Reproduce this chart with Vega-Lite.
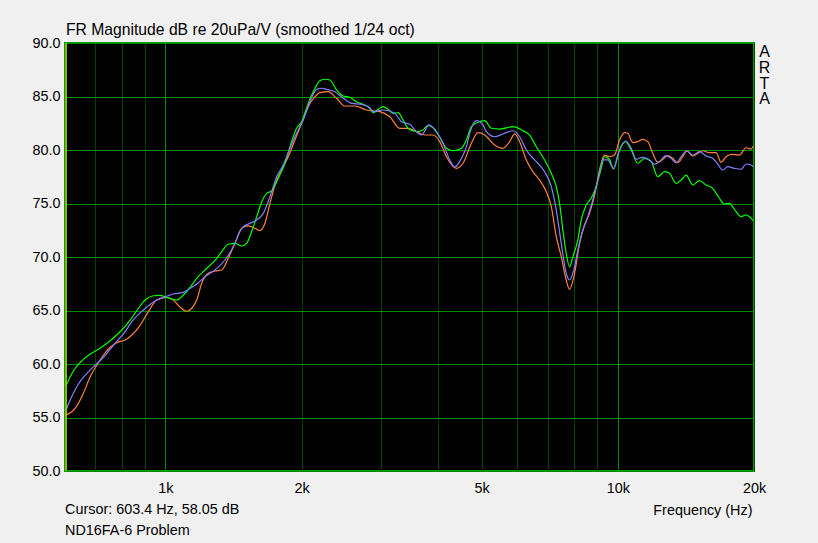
{
  "$schema": "https://vega.github.io/schema/vega-lite/v6.json",
  "width": 689,
  "height": 428,
  "autosize": {"type": "none"},
  "padding": {"left": 65, "top": 43, "right": 64, "bottom": 72},
  "background": "#f0f0f0",
  "config": {
    "view": {"fill": "#000000", "stroke": "#00a000", "strokeWidth": 2},
    "font": "Liberation Sans"
  },
  "title": {
    "text": "FR Magnitude dB re 20uPa/V (smoothed 1/24 oct)",
    "anchor": "start",
    "frame": "group",
    "fontSize": 15.7,
    "fontWeight": "normal",
    "font": "Liberation Sans",
    "color": "#000000",
    "baseline": "alphabetic",
    "offset": 7,
    "dx": 1,
    "dy": 23
  },
  "data": {
    "values": [
      {"s": "orange", "f": 600, "db": 55.21}, {"s": "orange", "f": 621, "db": 55.54}, {"s": "orange", "f": 637, "db": 56.07}, {"s": "orange", "f": 659, "db": 57.26}, {"s": "orange", "f": 682, "db": 58.81}, {"s": "orange", "f": 706, "db": 59.91}, {"s": "orange", "f": 730, "db": 60.84}, {"s": "orange", "f": 755, "db": 61.56}, {"s": "orange", "f": 781, "db": 61.99}, {"s": "orange", "f": 815, "db": 62.24}, {"s": "orange", "f": 843, "db": 62.71}, {"s": "orange", "f": 880, "db": 63.64}, {"s": "orange", "f": 917, "db": 64.89}, {"s": "orange", "f": 957, "db": 65.98}, {"s": "orange", "f": 1007, "db": 66.23}, {"s": "orange", "f": 1041, "db": 65.98}, {"s": "orange", "f": 1078, "db": 65.30}, {"s": "orange", "f": 1115, "db": 64.93}, {"s": "orange", "f": 1144, "db": 65.21}, {"s": "orange", "f": 1173, "db": 65.98}, {"s": "orange", "f": 1203, "db": 67.54}, {"s": "orange", "f": 1244, "db": 68.48}, {"s": "orange", "f": 1287, "db": 68.69}, {"s": "orange", "f": 1332, "db": 68.79}, {"s": "orange", "f": 1377, "db": 69.88}, {"s": "orange", "f": 1425, "db": 71.28}, {"s": "orange", "f": 1475, "db": 72.68}, {"s": "orange", "f": 1525, "db": 72.90}, {"s": "orange", "f": 1578, "db": 72.68}, {"s": "orange", "f": 1618, "db": 72.46}, {"s": "orange", "f": 1660, "db": 73.15}, {"s": "orange", "f": 1703, "db": 75.02}, {"s": "orange", "f": 1747, "db": 76.73}, {"s": "orange", "f": 1807, "db": 78.13}, {"s": "orange", "f": 1869, "db": 79.37}, {"s": "orange", "f": 1933, "db": 80.93}, {"s": "orange", "f": 2001, "db": 82.50}, {"s": "orange", "f": 2069, "db": 84.05}, {"s": "orange", "f": 2141, "db": 84.98}, {"s": "orange", "f": 2196, "db": 85.36}, {"s": "orange", "f": 2290, "db": 85.45}, {"s": "orange", "f": 2390, "db": 84.83}, {"s": "orange", "f": 2493, "db": 84.11}, {"s": "orange", "f": 2623, "db": 84.11}, {"s": "orange", "f": 2783, "db": 83.74}, {"s": "orange", "f": 2979, "db": 83.58}, {"s": "orange", "f": 3133, "db": 83.11}, {"s": "orange", "f": 3297, "db": 82.03}, {"s": "orange", "f": 3439, "db": 82.03}, {"s": "orange", "f": 3589, "db": 81.71}, {"s": "orange", "f": 3744, "db": 81.40}, {"s": "orange", "f": 3905, "db": 81.40}, {"s": "orange", "f": 4041, "db": 80.78}, {"s": "orange", "f": 4181, "db": 79.37}, {"s": "orange", "f": 4398, "db": 78.29}, {"s": "orange", "f": 4548, "db": 78.76}, {"s": "orange", "f": 4747, "db": 80.63}, {"s": "orange", "f": 4908, "db": 81.62}, {"s": "orange", "f": 5078, "db": 81.40}, {"s": "orange", "f": 5343, "db": 80.47}, {"s": "orange", "f": 5573, "db": 80.16}, {"s": "orange", "f": 5767, "db": 80.78}, {"s": "orange", "f": 5916, "db": 81.50}, {"s": "orange", "f": 6067, "db": 80.78}, {"s": "orange", "f": 6277, "db": 79.07}, {"s": "orange", "f": 6492, "db": 77.97}, {"s": "orange", "f": 6716, "db": 77.20}, {"s": "orange", "f": 6949, "db": 76.10}, {"s": "orange", "f": 7129, "db": 74.70}, {"s": "orange", "f": 7311, "db": 71.90}, {"s": "orange", "f": 7500, "db": 70.03}, {"s": "orange", "f": 7691, "db": 67.85}, {"s": "orange", "f": 7823, "db": 66.98}, {"s": "orange", "f": 8025, "db": 68.48}, {"s": "orange", "f": 8232, "db": 71.28}, {"s": "orange", "f": 8444, "db": 72.99}, {"s": "orange", "f": 8661, "db": 74.08}, {"s": "orange", "f": 8885, "db": 75.79}, {"s": "orange", "f": 9113, "db": 78.13}, {"s": "orange", "f": 9346, "db": 79.53}, {"s": "orange", "f": 9587, "db": 79.37}, {"s": "orange", "f": 9834, "db": 79.53}, {"s": "orange", "f": 10088, "db": 80.93}, {"s": "orange", "f": 10346, "db": 81.62}, {"s": "orange", "f": 10522, "db": 81.56}, {"s": "orange", "f": 10792, "db": 80.68}, {"s": "orange", "f": 11071, "db": 80.78}, {"s": "orange", "f": 11356, "db": 81.00}, {"s": "orange", "f": 11648, "db": 80.78}, {"s": "orange", "f": 11948, "db": 79.69}, {"s": "orange", "f": 12255, "db": 78.85}, {"s": "orange", "f": 12570, "db": 79.13}, {"s": "orange", "f": 12894, "db": 79.47}, {"s": "orange", "f": 13226, "db": 79.22}, {"s": "orange", "f": 13569, "db": 78.81}, {"s": "orange", "f": 13916, "db": 79.37}, {"s": "orange", "f": 14203, "db": 79.91}, {"s": "orange", "f": 14643, "db": 79.44}, {"s": "orange", "f": 15018, "db": 79.69}, {"s": "orange", "f": 15403, "db": 79.93}, {"s": "orange", "f": 15936, "db": 79.75}, {"s": "orange", "f": 16489, "db": 79.75}, {"s": "orange", "f": 16915, "db": 78.85}, {"s": "orange", "f": 17350, "db": 79.37}, {"s": "orange", "f": 17797, "db": 79.60}, {"s": "orange", "f": 18571, "db": 79.53}, {"s": "orange", "f": 19210, "db": 80.21}, {"s": "orange", "f": 19706, "db": 80.09}, {"s": "orange", "f": 19940, "db": 80.37},

      {"s": "green", "f": 600, "db": 57.94}, {"s": "green", "f": 604, "db": 58.05}, {"s": "green", "f": 616, "db": 58.81}, {"s": "green", "f": 632, "db": 59.60}, {"s": "green", "f": 654, "db": 60.31}, {"s": "green", "f": 682, "db": 60.93}, {"s": "green", "f": 717, "db": 61.47}, {"s": "green", "f": 755, "db": 62.18}, {"s": "green", "f": 801, "db": 63.18}, {"s": "green", "f": 836, "db": 64.11}, {"s": "green", "f": 872, "db": 65.21}, {"s": "green", "f": 902, "db": 65.98}, {"s": "green", "f": 941, "db": 66.38}, {"s": "green", "f": 973, "db": 66.42}, {"s": "green", "f": 1007, "db": 66.23}, {"s": "green", "f": 1060, "db": 65.98}, {"s": "green", "f": 1096, "db": 66.45}, {"s": "green", "f": 1144, "db": 67.38}, {"s": "green", "f": 1173, "db": 68.01}, {"s": "green", "f": 1224, "db": 68.79}, {"s": "green", "f": 1299, "db": 69.88}, {"s": "green", "f": 1332, "db": 70.50}, {"s": "green", "f": 1377, "db": 71.19}, {"s": "green", "f": 1425, "db": 71.28}, {"s": "green", "f": 1475, "db": 71.03}, {"s": "green", "f": 1512, "db": 71.28}, {"s": "green", "f": 1551, "db": 72.36}, {"s": "green", "f": 1592, "db": 73.77}, {"s": "green", "f": 1633, "db": 75.17}, {"s": "green", "f": 1675, "db": 75.95}, {"s": "green", "f": 1718, "db": 76.17}, {"s": "green", "f": 1776, "db": 77.36}, {"s": "green", "f": 1838, "db": 78.76}, {"s": "green", "f": 1901, "db": 80.78}, {"s": "green", "f": 1950, "db": 82.03}, {"s": "green", "f": 2001, "db": 82.64}, {"s": "green", "f": 2069, "db": 84.36}, {"s": "green", "f": 2141, "db": 85.77}, {"s": "green", "f": 2196, "db": 86.48}, {"s": "green", "f": 2252, "db": 86.61}, {"s": "green", "f": 2310, "db": 86.54}, {"s": "green", "f": 2390, "db": 85.61}, {"s": "green", "f": 2471, "db": 85.05}, {"s": "green", "f": 2557, "db": 84.93}, {"s": "green", "f": 2645, "db": 84.51}, {"s": "green", "f": 2736, "db": 84.27}, {"s": "green", "f": 2831, "db": 83.90}, {"s": "green", "f": 2879, "db": 83.49}, {"s": "green", "f": 2953, "db": 83.80}, {"s": "green", "f": 3029, "db": 84.05}, {"s": "green", "f": 3107, "db": 83.80}, {"s": "green", "f": 3187, "db": 83.43}, {"s": "green", "f": 3268, "db": 83.49}, {"s": "green", "f": 3353, "db": 82.80}, {"s": "green", "f": 3439, "db": 82.03}, {"s": "green", "f": 3589, "db": 81.71}, {"s": "green", "f": 3711, "db": 81.87}, {"s": "green", "f": 3807, "db": 82.31}, {"s": "green", "f": 3905, "db": 82.08}, {"s": "green", "f": 4041, "db": 81.19}, {"s": "green", "f": 4181, "db": 80.16}, {"s": "green", "f": 4324, "db": 79.93}, {"s": "green", "f": 4512, "db": 80.16}, {"s": "green", "f": 4628, "db": 80.93}, {"s": "green", "f": 4747, "db": 82.18}, {"s": "green", "f": 4908, "db": 82.59}, {"s": "green", "f": 5078, "db": 82.74}, {"s": "green", "f": 5254, "db": 82.03}, {"s": "green", "f": 5482, "db": 81.96}, {"s": "green", "f": 5865, "db": 82.18}, {"s": "green", "f": 6170, "db": 81.80}, {"s": "green", "f": 6383, "db": 81.40}, {"s": "green", "f": 6604, "db": 80.31}, {"s": "green", "f": 6891, "db": 79.07}, {"s": "green", "f": 7129, "db": 77.82}, {"s": "green", "f": 7311, "db": 76.57}, {"s": "green", "f": 7435, "db": 75.02}, {"s": "green", "f": 7561, "db": 72.52}, {"s": "green", "f": 7691, "db": 70.35}, {"s": "green", "f": 7823, "db": 69.09}, {"s": "green", "f": 7956, "db": 70.03}, {"s": "green", "f": 8160, "db": 71.59}, {"s": "green", "f": 8302, "db": 73.46}, {"s": "green", "f": 8515, "db": 74.86}, {"s": "green", "f": 8735, "db": 75.49}, {"s": "green", "f": 8960, "db": 76.57}, {"s": "green", "f": 9191, "db": 78.29}, {"s": "green", "f": 9346, "db": 79.37}, {"s": "green", "f": 9587, "db": 79.11}, {"s": "green", "f": 9784, "db": 78.22}, {"s": "green", "f": 10051, "db": 79.84}, {"s": "green", "f": 10399, "db": 80.78}, {"s": "green", "f": 10705, "db": 80.00}, {"s": "green", "f": 11071, "db": 78.76}, {"s": "green", "f": 11454, "db": 79.22}, {"s": "green", "f": 11851, "db": 78.91}, {"s": "green", "f": 12255, "db": 77.50}, {"s": "green", "f": 12680, "db": 77.97}, {"s": "green", "f": 13007, "db": 77.82}, {"s": "green", "f": 13457, "db": 76.89}, {"s": "green", "f": 13804, "db": 77.20}, {"s": "green", "f": 14159, "db": 77.66}, {"s": "green", "f": 14643, "db": 76.73}, {"s": "green", "f": 15150, "db": 77.13}, {"s": "green", "f": 15675, "db": 76.73}, {"s": "green", "f": 16208, "db": 76.42}, {"s": "green", "f": 16769, "db": 75.49}, {"s": "green", "f": 17200, "db": 74.95}, {"s": "green", "f": 17644, "db": 75.02}, {"s": "green", "f": 18097, "db": 74.46}, {"s": "green", "f": 18730, "db": 73.77}, {"s": "green", "f": 19210, "db": 73.93}, {"s": "green", "f": 19537, "db": 73.77}, {"s": "green", "f": 19940, "db": 73.39},

      {"s": "blue", "f": 600, "db": 55.45}, {"s": "blue", "f": 616, "db": 56.64}, {"s": "blue", "f": 637, "db": 57.88}, {"s": "blue", "f": 659, "db": 58.76}, {"s": "blue", "f": 694, "db": 59.75}, {"s": "blue", "f": 730, "db": 60.63}, {"s": "blue", "f": 774, "db": 61.93}, {"s": "blue", "f": 815, "db": 63.02}, {"s": "blue", "f": 843, "db": 63.95}, {"s": "blue", "f": 894, "db": 65.05}, {"s": "blue", "f": 957, "db": 65.98}, {"s": "blue", "f": 999, "db": 66.29}, {"s": "blue", "f": 1041, "db": 66.54}, {"s": "blue", "f": 1096, "db": 66.70}, {"s": "blue", "f": 1134, "db": 67.07}, {"s": "blue", "f": 1183, "db": 67.60}, {"s": "blue", "f": 1224, "db": 68.16}, {"s": "blue", "f": 1287, "db": 68.79}, {"s": "blue", "f": 1354, "db": 69.72}, {"s": "blue", "f": 1413, "db": 70.96}, {"s": "blue", "f": 1475, "db": 72.68}, {"s": "blue", "f": 1538, "db": 73.15}, {"s": "blue", "f": 1592, "db": 73.46}, {"s": "blue", "f": 1646, "db": 74.08}, {"s": "blue", "f": 1703, "db": 75.64}, {"s": "blue", "f": 1762, "db": 77.50}, {"s": "blue", "f": 1822, "db": 78.60}, {"s": "blue", "f": 1885, "db": 80.16}, {"s": "blue", "f": 1950, "db": 81.56}, {"s": "blue", "f": 2017, "db": 82.80}, {"s": "blue", "f": 2086, "db": 84.51}, {"s": "blue", "f": 2159, "db": 85.67}, {"s": "blue", "f": 2214, "db": 85.77}, {"s": "blue", "f": 2271, "db": 85.67}, {"s": "blue", "f": 2369, "db": 85.45}, {"s": "blue", "f": 2451, "db": 84.98}, {"s": "blue", "f": 2579, "db": 84.36}, {"s": "blue", "f": 2714, "db": 84.27}, {"s": "blue", "f": 2831, "db": 83.95}, {"s": "blue", "f": 2879, "db": 83.58}, {"s": "blue", "f": 3029, "db": 83.74}, {"s": "blue", "f": 3215, "db": 83.43}, {"s": "blue", "f": 3326, "db": 82.64}, {"s": "blue", "f": 3469, "db": 82.40}, {"s": "blue", "f": 3589, "db": 81.71}, {"s": "blue", "f": 3681, "db": 81.40}, {"s": "blue", "f": 3826, "db": 82.34}, {"s": "blue", "f": 3972, "db": 81.71}, {"s": "blue", "f": 4109, "db": 80.63}, {"s": "blue", "f": 4251, "db": 79.07}, {"s": "blue", "f": 4360, "db": 78.41}, {"s": "blue", "f": 4512, "db": 79.22}, {"s": "blue", "f": 4628, "db": 80.31}, {"s": "blue", "f": 4706, "db": 81.56}, {"s": "blue", "f": 4869, "db": 82.74}, {"s": "blue", "f": 5035, "db": 82.34}, {"s": "blue", "f": 5122, "db": 81.71}, {"s": "blue", "f": 5343, "db": 81.24}, {"s": "blue", "f": 5573, "db": 81.50}, {"s": "blue", "f": 5865, "db": 81.80}, {"s": "blue", "f": 6067, "db": 81.24}, {"s": "blue", "f": 6277, "db": 80.00}, {"s": "blue", "f": 6548, "db": 79.07}, {"s": "blue", "f": 6891, "db": 77.97}, {"s": "blue", "f": 7129, "db": 76.57}, {"s": "blue", "f": 7311, "db": 74.39}, {"s": "blue", "f": 7500, "db": 71.28}, {"s": "blue", "f": 7691, "db": 68.48}, {"s": "blue", "f": 7823, "db": 67.85}, {"s": "blue", "f": 7996, "db": 68.79}, {"s": "blue", "f": 8160, "db": 70.65}, {"s": "blue", "f": 8370, "db": 72.52}, {"s": "blue", "f": 8584, "db": 73.77}, {"s": "blue", "f": 8806, "db": 75.33}, {"s": "blue", "f": 9033, "db": 77.20}, {"s": "blue", "f": 9267, "db": 79.07}, {"s": "blue", "f": 9504, "db": 79.07}, {"s": "blue", "f": 9784, "db": 78.27}, {"s": "blue", "f": 10051, "db": 79.77}, {"s": "blue", "f": 10399, "db": 80.84}, {"s": "blue", "f": 10705, "db": 80.16}, {"s": "blue", "f": 10980, "db": 79.13}, {"s": "blue", "f": 11356, "db": 79.32}, {"s": "blue", "f": 11749, "db": 79.07}, {"s": "blue", "f": 12050, "db": 78.66}, {"s": "blue", "f": 12363, "db": 78.91}, {"s": "blue", "f": 12790, "db": 79.47}, {"s": "blue", "f": 13121, "db": 79.22}, {"s": "blue", "f": 13457, "db": 78.81}, {"s": "blue", "f": 13804, "db": 79.37}, {"s": "blue", "f": 14203, "db": 79.93}, {"s": "blue", "f": 14643, "db": 79.53}, {"s": "blue", "f": 15150, "db": 79.84}, {"s": "blue", "f": 15675, "db": 79.44}, {"s": "blue", "f": 16208, "db": 79.22}, {"s": "blue", "f": 16627, "db": 78.69}, {"s": "blue", "f": 17054, "db": 78.13}, {"s": "blue", "f": 17490, "db": 78.44}, {"s": "blue", "f": 18097, "db": 78.29}, {"s": "blue", "f": 18730, "db": 78.20}, {"s": "blue", "f": 19210, "db": 78.69}, {"s": "blue", "f": 19706, "db": 78.60}, {"s": "blue", "f": 19940, "db": 78.44}
    ]
  },
  "layer": [
    {
      "mark": {"type": "line", "strokeWidth": 1.2, "interpolate": "monotone", "clip": true},
      "encoding": {
        "x": {
          "field": "f",
          "type": "quantitative",
          "scale": {"type": "log", "domain": [600, 20000], "nice": false},
          "axis": {
            "title": "Frequency (Hz)",
            "titleFont": "Liberation Sans",
            "titleFontSize": 14.4,
            "titleFontWeight": "normal",
            "titleColor": "#000000",
            "titleAnchor": "end",
            "titleAlign": "right",
            "titleBaseline": "middle",
            "titleX": 687,
            "titleY": 39,
            "values": [700, 800, 900, 1000, 2000, 3000, 4000, 5000, 6000, 7000, 8000, 9000, 10000, 20000],
            "labelExpr": "indexof([1000, 2000, 5000, 10000, 20000], datum.value) >= 0 ? (datum.value / 1000) + 'k' : ''",
            "labelFont": "Liberation Sans",
            "labelFontSize": 14.4,
            "labelColor": "#000000",
            "labelBaseline": "top",
            "labelPadding": 10,
            "labelFlush": false,
            "labelOverlap": false,
            "ticks": false,
            "domain": false,
            "grid": true,
            "gridOpacity": 1,
            "gridWidth": 1,
            "gridColor": {"condition": {"test": "datum.value == 1000 || datum.value == 10000", "value": "#008c00"}, "value": "#004400"}
          }
        },
        "y": {
          "field": "db",
          "type": "quantitative",
          "scale": {"domain": [50, 90], "nice": false, "zero": false},
          "axis": {
            "title": null,
            "values": [50, 55, 60, 65, 70, 75, 80, 85, 90],
            "format": ".1f",
            "labelFont": "Liberation Sans",
            "labelFontSize": 14.4,
            "labelColor": "#000000",
            "labelPadding": 5,
            "ticks": false,
            "domain": false,
            "grid": true,
            "gridOpacity": 1,
            "gridWidth": 1,
            "gridColor": "#008c00"
          }
        },
        "color": {
          "field": "s",
          "type": "nominal",
          "scale": {"domain": ["orange", "green", "blue"], "range": ["#ff8040", "#00ff00", "#8080ff"]},
          "legend": null
        },
        "order": {"field": "f", "type": "quantitative"}
      }
    },
    {
      "data": {"values": [{"label": "cursor"}]},
      "mark": {"type": "rule", "color": "#c8c800", "strokeWidth": 1.5},
      "encoding": {"x": {"datum": 603.4}}
    },
    {
      "data": {"values": [{"label": "cursor"}]},
      "mark": {"type": "text", "align": "left", "baseline": "middle", "fontSize": 14.4, "font": "Liberation Sans", "color": "#000000", "text": "Cursor: 603.4 Hz, 58.05 dB"},
      "encoding": {"x": {"datum": 600}, "y": {"datum": 46.36}}
    },
    {
      "data": {"values": [{"label": "name"}]},
      "mark": {"type": "text", "align": "left", "baseline": "middle", "fontSize": 14.4, "font": "Liberation Sans", "color": "#000000", "text": "ND16FA-6 Problem"},
      "encoding": {"x": {"datum": 600}, "y": {"datum": 44.39}}
    },
    {
      "data": {"values": [{"label": "brand"}]},
      "mark": {"type": "text", "align": "center", "baseline": "alphabetic", "fontSize": 16, "font": "Liberation Sans", "color": "#000000", "dx": 10.5, "lineHeight": 15.7, "text": ["A", "R", "T", "A"]},
      "encoding": {"x": {"datum": 20000}, "y": {"datum": 88.66}}
    }
  ]
}
